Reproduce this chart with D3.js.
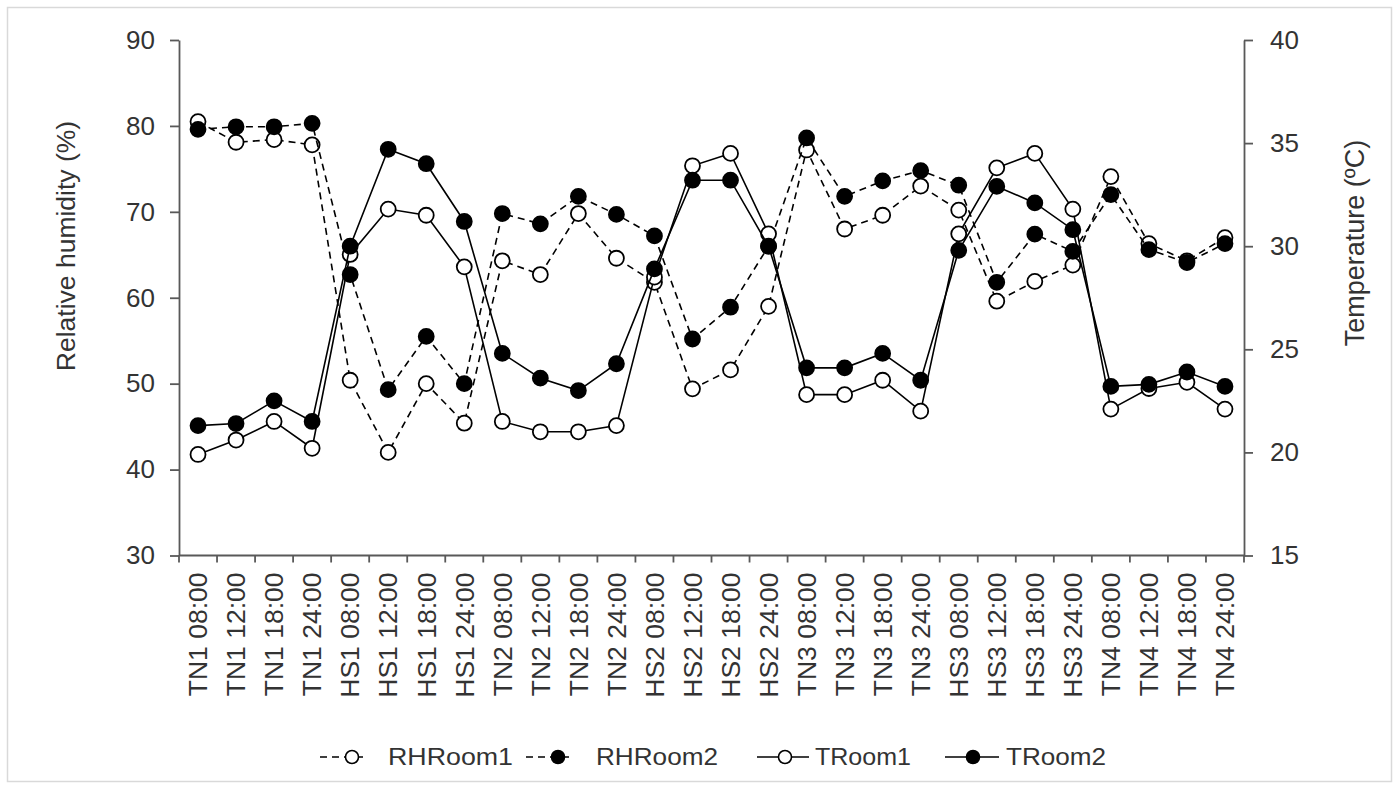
<!DOCTYPE html>
<html>
<head>
<meta charset="utf-8">
<script src="https://cdn.jsdelivr.net/npm/d3@7"></script>
<style>
  body { margin: 0; background: #fff; }
  text { font-family: "Liberation Sans", Arial, sans-serif; fill: #333; }
</style>
</head>
<body>
<svg id="chart" width="1399" height="789"></svg>
<script>
// Sampling times (day type + hour)
const categories = [
  "TN1 08:00", "TN1 12:00", "TN1 18:00", "TN1 24:00",
  "HS1 08:00", "HS1 12:00", "HS1 18:00", "HS1 24:00",
  "TN2 08:00", "TN2 12:00", "TN2 18:00", "TN2 24:00",
  "HS2 08:00", "HS2 12:00", "HS2 18:00", "HS2 24:00",
  "TN3 08:00", "TN3 12:00", "TN3 18:00", "TN3 24:00",
  "HS3 08:00", "HS3 12:00", "HS3 18:00", "HS3 24:00",
  "TN4 08:00", "TN4 12:00", "TN4 18:00", "TN4 24:00"
];

// Relative humidity (%), left axis
const rhRoom1 = [80.5, 78.1, 78.4, 77.8, 50.4, 42.0, 50.0, 45.4, 64.3, 62.7, 69.8, 64.6, 61.8, 49.4,
                 51.6, 59.0, 77.2, 68.0, 69.6, 73.0, 70.2, 59.6, 61.9, 63.8, 74.1, 66.3, 64.3, 67.0];
const rhRoom2 = [79.6, 79.9, 79.9, 80.3, 62.7, 49.3, 55.5, 50.0, 69.8, 68.6, 71.8, 69.7, 67.2, 55.2,
                 58.9, 66.0, 78.6, 71.8, 73.6, 74.8, 73.1, 61.8, 67.4, 65.4, 72.0, 65.6, 64.1, 66.3];

// Temperature (°C), right axis
const tRoom1 = [19.9, 20.6, 21.5, 20.2, 29.6, 31.8, 31.5, 29.0, 21.5, 21.0, 21.0, 21.3, 28.5, 33.9,
                34.5, 30.6, 22.8, 22.8, 23.5, 22.0, 30.6, 33.8, 34.5, 31.8, 22.1, 23.1, 23.4, 22.1];
const tRoom2 = [21.3, 21.4, 22.5, 21.5, 30.0, 34.7, 34.0, 31.2, 24.8, 23.6, 23.0, 24.3, 28.9, 33.2,
                33.2, 30.0, 24.1, 24.1, 24.8, 23.5, 29.8, 32.9, 32.1, 30.8, 23.2, 23.3, 23.9, 23.2];

const rhTicks = [30, 40, 50, 60, 70, 80, 90];
const tempTicks = [15, 20, 25, 30, 35, 40];

const svg = d3.select("#chart");
const plot = { left: 179, right: 1244, top: 40, bottom: 555.5 };
const axisColor = "#595959";

// chart frame
svg.append("rect")
  .attr("x", 7.5).attr("y", 7.5).attr("width", 1384).attr("height", 774)
  .attr("fill", "#fff").attr("stroke", "#d9d9d9").attr("stroke-width", 1.5);

const x = d3.scaleBand().domain(categories).range([plot.left, plot.right]);
const yRH = d3.scaleLinear().domain([30, 90]).range([plot.bottom, plot.top]);
const yT = d3.scaleLinear().domain([15, 40]).range([plot.bottom, plot.top]);
const cx = c => x(c) + x.bandwidth() / 2;

// left axis
const gL = svg.append("g").attr("transform", `translate(${plot.left},0)`)
  .call(d3.axisLeft(yRH).tickValues(rhTicks).tickSize(9).tickSizeOuter(0).tickPadding(15));
gL.selectAll("text").style("font-size", "26px").attr("fill", "#333");

// right axis
const gR = svg.append("g").attr("transform", `translate(${plot.right},0)`)
  .call(d3.axisRight(yT).tickValues(tempTicks).tickSize(9).tickSizeOuter(0).tickPadding(17));
gR.selectAll("text").style("font-size", "26px").attr("fill", "#333");

[gL, gR].forEach(g => {
  g.select(".domain").attr("stroke", axisColor).attr("stroke-width", 1.8);
  g.selectAll(".tick line").attr("stroke", axisColor).attr("stroke-width", 1.8);
});

// bottom axis: line, ticks between categories, rotated labels
const gB = svg.append("g");
gB.append("line")
  .attr("x1", plot.left).attr("x2", plot.right)
  .attr("y1", plot.bottom).attr("y2", plot.bottom)
  .attr("stroke", axisColor).attr("stroke-width", 1.8);
const boundaries = categories.map(c => x(c)).concat([x(categories[categories.length - 1]) + x.bandwidth()]);
gB.selectAll("line.tk").data(boundaries).join("line").attr("class", "tk")
  .attr("x1", d => d).attr("x2", d => d)
  .attr("y1", plot.bottom).attr("y2", plot.bottom + 7)
  .attr("stroke", axisColor).attr("stroke-width", 1.8);
gB.selectAll("text").data(categories).join("text")
  .attr("transform", d => `translate(${cx(d)},${plot.bottom + 17}) rotate(-90)`)
  .attr("text-anchor", "end")
  .attr("dy", "0.35em")
  .style("font-size", "26.5px")
  .text(d => d);

// axis titles
svg.append("text")
  .attr("transform", "translate(66,246) rotate(-90)")
  .attr("text-anchor", "middle").attr("dy", "0.35em")
  .style("font-size", "26.5px")
  .text("Relative humidity (%)");
svg.append("text")
  .attr("transform", "translate(1355,243) rotate(-90)")
  .attr("text-anchor", "middle").attr("dy", "0.35em")
  .style("font-size", "27px")
  .text("Temperature (ºC)");

// series
const series = [
  { name: "RHRoom1", values: rhRoom1, y: yRH, dashed: true,  filled: false },
  { name: "RHRoom2", values: rhRoom2, y: yRH, dashed: true,  filled: true },
  { name: "TRoom1",  values: tRoom1,  y: yT,  dashed: false, filled: false },
  { name: "TRoom2",  values: tRoom2,  y: yT,  dashed: false, filled: true }
];
const R = 7.5;

series.forEach(s => {
  const pts = categories.map((c, i) => [cx(c), s.y(s.values[i])]);
  const g = svg.append("g");
  g.append("path")
    .attr("d", d3.line()(pts))
    .attr("fill", "none").attr("stroke", "#000").attr("stroke-width", 1.6)
    .attr("stroke-dasharray", s.dashed ? "7,5" : null);
  g.selectAll("circle").data(pts).join("circle")
    .attr("cx", d => d[0]).attr("cy", d => d[1]).attr("r", R)
    .attr("fill", s.filled ? "#000" : "#fff")
    .attr("stroke", "#000").attr("stroke-width", 1.8);
});

// legend
const legendY = 757;
const legendItems = [
  { s: series[0], cx: 352, x1: 320, x2: 368, tx: 388, tw: 125 },
  { s: series[1], cx: 558, x1: 526, x2: 574, tx: 596, tw: 122 },
  { s: series[2], cx: 785, x1: 757, x2: 809, tx: 815, tw: 96 },
  { s: series[3], cx: 973, x1: 945, x2: 999, tx: 1006, tw: 100 }
];
const gLeg = svg.append("g");
legendItems.forEach(it => {
  gLeg.append("line")
    .attr("x1", it.x1).attr("x2", it.x2).attr("y1", legendY).attr("y2", legendY)
    .attr("stroke", "#000").attr("stroke-width", 1.6)
    .attr("stroke-dasharray", it.s.dashed ? "7,5" : null);
  gLeg.append("circle")
    .attr("cx", it.cx).attr("cy", legendY).attr("r", 6.5)
    .attr("fill", it.s.filled ? "#000" : "#fff")
    .attr("stroke", "#000").attr("stroke-width", 1.6);
  gLeg.append("text")
    .attr("x", it.tx).attr("y", legendY).attr("dy", "0.35em")
    .attr("textLength", it.tw).attr("lengthAdjust", "spacingAndGlyphs")
    .style("font-size", "24px")
    .text(it.s.name);
});
</script>
</body>
</html>
